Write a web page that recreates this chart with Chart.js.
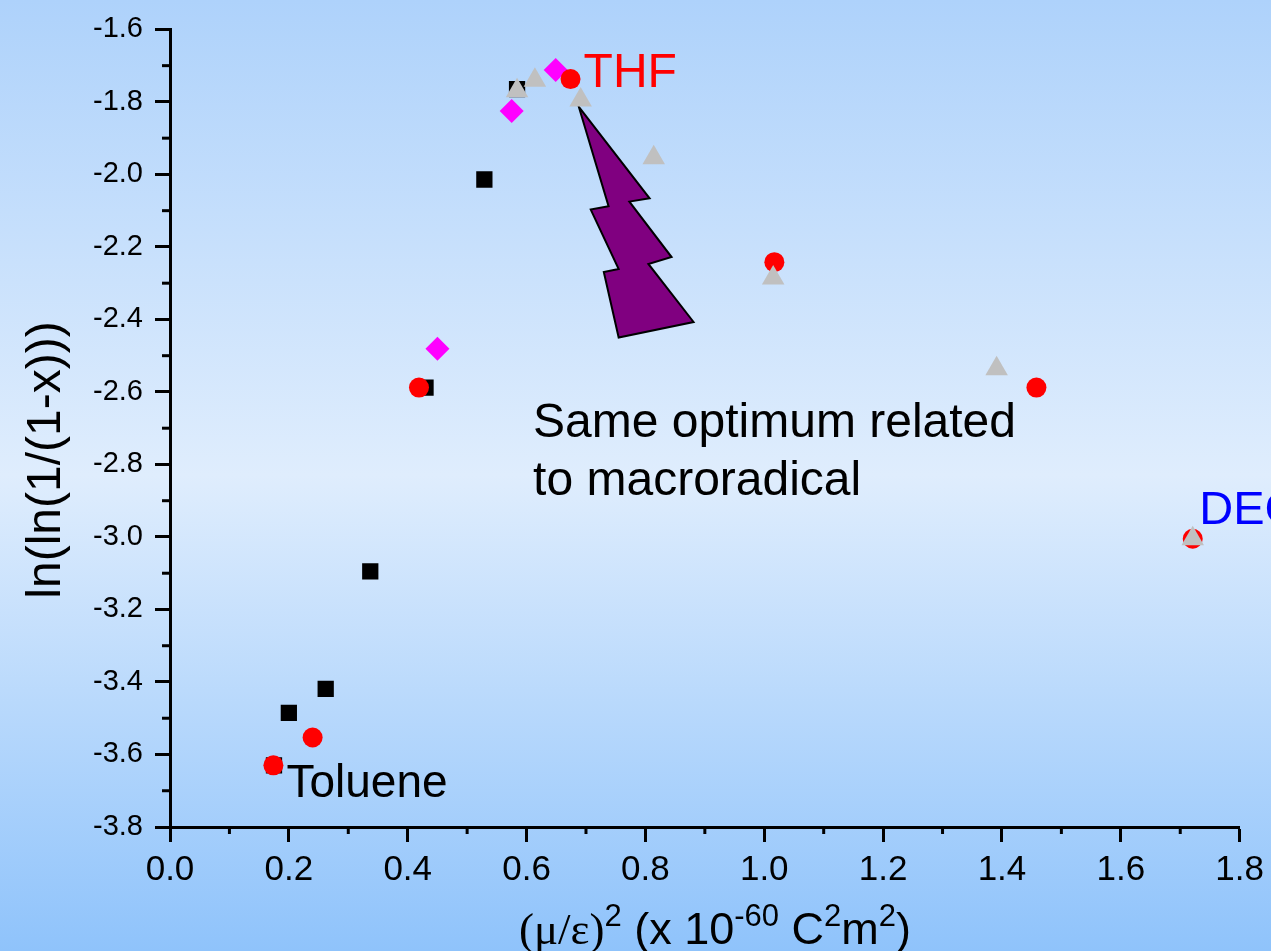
<!DOCTYPE html>
<html>
<head>
<meta charset="utf-8">
<script src="https://cdn.jsdelivr.net/npm/chart.js@4.4.1/dist/chart.umd.min.js"></script>
<style>
  html, body { margin: 0; padding: 0; overflow: hidden; }
  #wrap { width: 1271px; height: 951px; position: relative; }
</style>
</head>
<body>
<div id="wrap"><canvas id="chart"></canvas></div>
<script>
// axis ranges
const xRange = [0, 1.8];
const yRange = [-3.8, -1.6];
const tickStep = 0.2;

// series
const triangleX = [0.584, 0.614, 0.691, 0.814, 1.015, 1.391, 1.721];
const triangleY = [-1.769, -1.740, -1.795, -1.954, -2.286, -2.536, -3.005];

const circleX = [0.174, 0.240, 0.419, 0.674, 1.017, 1.458, 1.721];
const circleY = [-3.630, -3.553, -2.588, -1.737, -2.242, -2.588, -3.005];

const diamondX = [0.450, 0.575, 0.649];
const diamondY = [-2.481, -1.825, -1.712];

const squareX = [0.175, 0.200, 0.262, 0.337, 0.430, 0.529, 0.584];
const squareY = [-3.630, -3.485, -3.419, -3.095, -2.588, -2.014, -1.765];

// text labels placed in data units
const notes = [
  { text: 'THF', x: 0.696, y: -1.759, color: '#ff0000', size: 48 },
  { text: 'Toluene', x: 0.196, y: -3.718, color: '#000000', size: 46 },
  { text: 'Same optimum related', x: 0.611, y: -2.725, color: '#000000', size: 48 },
  { text: 'to macroradical', x: 0.611, y: -2.884, color: '#000000', size: 48 },
  { text: 'DEC', x: 1.732, y: -2.963, color: '#0000ff', size: 47 }
];

// the purple lightning arrow, data units
const boltPoints = [
  [0.688, -1.814], [0.807, -2.066], [0.773, -2.075], [0.844, -2.228],
  [0.805, -2.247], [0.881, -2.407], [0.755, -2.450], [0.730, -2.269],
  [0.755, -2.261], [0.708, -2.097], [0.738, -2.088]
];

const FONT = '"Liberation Sans", Arial, sans-serif';
const yTitle = 'ln(ln(1/(1-x)))';

function toPoints(xs, ys) {
  return xs.map((x, i) => ({ x: x, y: ys[i] }));
}

const decor = {
  id: 'decor',
  beforeDraw(chart) {
    const { ctx, width, height } = chart;
    const g = ctx.createLinearGradient(0, 0, 0, height);
    g.addColorStop(0, '#aed2fb');
    g.addColorStop(0.5, '#dfedfd');
    g.addColorStop(1, '#8fc3fb');
    ctx.save();
    ctx.fillStyle = g;
    ctx.fillRect(0, 0, width, height);
    ctx.restore();
  },
  beforeDatasetsDraw(chart) {
    const { ctx, scales } = chart;
    const xs = scales.x, ys = scales.y;
    ctx.save();
    ctx.strokeStyle = '#000';
    ctx.lineWidth = 3;
    // minor ticks halfway between the major ones
    for (let i = 0; i < xs.ticks.length - 1; i++) {
      const px = xs.getPixelForValue((xs.ticks[i].value + xs.ticks[i + 1].value) / 2);
      ctx.beginPath();
      ctx.moveTo(px, xs.top);
      ctx.lineTo(px, xs.top + 7);
      ctx.stroke();
    }
    for (let i = 0; i < ys.ticks.length - 1; i++) {
      const py = ys.getPixelForValue((ys.ticks[i].value + ys.ticks[i + 1].value) / 2);
      ctx.beginPath();
      ctx.moveTo(ys.right, py);
      ctx.lineTo(ys.right - 8, py);
      ctx.stroke();
    }
    // lightning arrow
    ctx.beginPath();
    boltPoints.forEach((p, i) => {
      const px = xs.getPixelForValue(p[0]);
      const py = ys.getPixelForValue(p[1]);
      if (i === 0) ctx.moveTo(px, py); else ctx.lineTo(px, py);
    });
    ctx.closePath();
    ctx.fillStyle = '#800080';
    ctx.fill();
    ctx.lineWidth = 2;
    ctx.lineJoin = 'miter';
    ctx.stroke();
    ctx.restore();
  },
  afterDatasetsDraw(chart) {
    const { ctx, scales } = chart;
    ctx.save();
    ctx.textBaseline = 'alphabetic';
    ctx.textAlign = 'left';
    notes.forEach(n => {
      ctx.font = n.size + 'px ' + FONT;
      ctx.fillStyle = n.color;
      ctx.fillText(n.text, scales.x.getPixelForValue(n.x), scales.y.getPixelForValue(n.y));
    });

    // y axis title, sits a bit below the middle like the original
    ctx.save();
    ctx.translate(60, 460);
    ctx.rotate(-Math.PI / 2);
    ctx.textAlign = 'center';
    ctx.font = '48px ' + FONT;
    ctx.fillStyle = '#000';
    ctx.fillText(yTitle, 0, 0);
    ctx.restore();

    // x axis title with superscripts
    const big = '45px ' + FONT;
    const small = '31px ' + FONT;
    const parts = [
      { t: '(\u03bc/\u03b5)', f: '45px "Liberation Serif", "Times New Roman", serif', up: 0 },
      { t: '2', f: small, up: 18 },
      { t: ' (x 10', f: big, up: 0 },
      { t: '-60', f: small, up: 18 },
      { t: ' C', f: big, up: 0 },
      { t: '2', f: small, up: 18 },
      { t: 'm', f: big, up: 0 },
      { t: '2', f: small, up: 18 },
      { t: ')', f: big, up: 0 }
    ];
    let total = 0;
    parts.forEach(p => { ctx.font = p.f; p.w = ctx.measureText(p.t).width; total += p.w; });
    let x = 715 - total / 2;
    const base = 944;
    ctx.fillStyle = '#000';
    parts.forEach(p => {
      ctx.font = p.f;
      ctx.fillText(p.t, x, base - p.up);
      x += p.w;
    });
    ctx.restore();
  }
};

new Chart(document.getElementById('chart'), {
  type: 'scatter',
  data: {
    datasets: [
      {
        label: 'triangles',
        data: toPoints(triangleX, triangleY),
        pointStyle: 'triangle',
        pointRadius: 13,
        backgroundColor: '#c0c0c0',
        borderColor: '#c0c0c0',
        borderWidth: 0
      },
      {
        label: 'circles',
        data: toPoints(circleX, circleY),
        pointStyle: 'circle',
        pointRadius: 10,
        backgroundColor: '#ff0000',
        borderColor: '#ff0000',
        borderWidth: 0
      },
      {
        label: 'diamonds',
        data: toPoints(diamondX, diamondY),
        pointStyle: 'rectRot',
        pointRadius: 12,
        backgroundColor: '#ff00ff',
        borderColor: '#ff00ff',
        borderWidth: 0
      },
      {
        label: 'squares',
        data: toPoints(squareX, squareY),
        pointStyle: 'rect',
        pointRadius: 11.5,
        backgroundColor: '#000000',
        borderColor: '#000000',
        borderWidth: 0
      }
    ]
  },
  options: {
    responsive: true,
    maintainAspectRatio: false,
    animation: false,
    layout: { padding: { top: 25, right: 29, bottom: 0, left: 0 } },
    plugins: {
      legend: { display: false },
      tooltip: { enabled: false }
    },
    scales: {
      x: {
        type: 'linear',
        min: xRange[0],
        max: xRange[1],
        afterFit: s => { s.height = 124; },
        border: { color: '#000', width: 3 },
        grid: { drawOnChartArea: false, tickLength: 15, tickWidth: 3, tickColor: '#000' },
        ticks: {
          stepSize: tickStep,
          color: '#000',
          padding: 7,
          maxRotation: 0,
          font: { family: FONT, size: 35 },
          callback: v => Number(v).toFixed(1)
        },
        title: { display: false }
      },
      y: {
        type: 'linear',
        min: yRange[0],
        max: yRange[1],
        afterFit: s => { s.width = 170; },
        border: { color: '#000', width: 3 },
        grid: { drawOnChartArea: false, tickLength: 15, tickWidth: 3, tickColor: '#000' },
        ticks: {
          stepSize: tickStep,
          color: '#000',
          padding: 12,
          font: { family: FONT, size: 29 },
          callback: v => Number(v).toFixed(1)
        },
        title: { display: false }
      }
    }
  },
  plugins: [decor]
});
</script>
</body>
</html>
